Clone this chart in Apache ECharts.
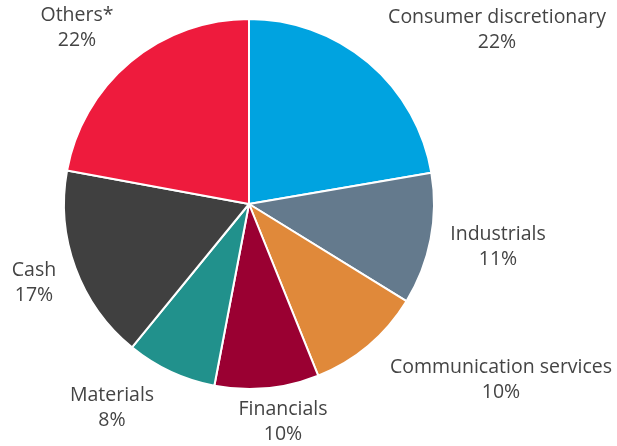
<!DOCTYPE html>
<html>
<head>
<meta charset="utf-8">
<script src="https://cdn.jsdelivr.net/npm/echarts@6/dist/echarts.min.js"></script>
<style>html,body{margin:0;padding:0;background:#fff;}#c{width:617px;height:446px;}</style>
</head>
<body>
<div id="c"></div>
<script>
const categories = ['Consumer discretionary', 'Industrials', 'Communication services', 'Financials', 'Materials', 'Cash', 'Others*'];
const values = [22.3, 11.5, 10.1, 9.1, 7.9, 17.0, 22.1];
// percentages as printed on the chart
const shareLabels = ['22%', '11%', '10%', '10%', '8%', '17%', '22%'];
const colors = ['#00A3E0', '#647A8D', '#E0893A', '#9A0032', '#21918C', '#404040', '#EE1B3D'];
// label anchor points (layout only)
const labelPos = [[497, 30], [498, 247], [501, 380], [283, 422], [112, 408], [34, 283], [77, 28]];

const chart = echarts.init(document.getElementById('c'));
chart.setOption({
  animation: false,
  series: [{
    type: 'pie',
    center: [249, 204],
    radius: 185,
    startAngle: 90,
    clockwise: true,
    data: categories.map((n, i) => ({ name: n, value: values[i], itemStyle: { color: colors[i] } })),
    itemStyle: { borderColor: '#fff', borderWidth: 2 },
    label: {
      show: true,
      position: 'outside',
      formatter: p => p.name + '\n' + shareLabels[p.dataIndex],
      fontFamily: 'Open Sans',
      fontSize: 19.5,
      lineHeight: 25,
      color: '#444444',
      align: 'center',
      overflow: 'none',
      width: null
    },
    labelLine: { show: false },
    labelLayout: function (p) {
      const pos = labelPos[p.dataIndex];
      return { x: pos[0], y: pos[1], align: 'center', verticalAlign: 'middle', hideOverlap: false, moveOverlap: null };
    },
    emphasis: { disabled: true }
  }]
});
</script>
</body>
</html>
